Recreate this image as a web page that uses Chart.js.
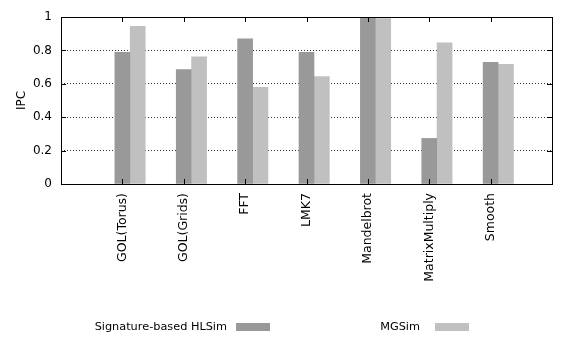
<!DOCTYPE html>
<html>
<head>
<meta charset="utf-8">
<script src="https://cdn.jsdelivr.net/npm/chart.js@4"></script>
<style>
  html, body { margin: 0; padding: 0; background: #fff; }
  #wrap { width: 579px; height: 338px; }
</style>
</head>
<body>
<div id="wrap"><canvas id="ipcChart" width="579" height="338"></canvas></div>
<script>
// data
const categorias = ["GOL(Torus)", "GOL(Grids)", "FFT", "LMK7", "Mandelbrot", "MatrixMultiply", "Smooth"];
const hlsim = [0.788, 0.685, 0.870, 0.788, 1.0, 0.273, 0.729];
const mgsim = [0.944, 0.762, 0.579, 0.643, 0.990, 0.846, 0.717];
const yTicks = [0, 0.2, 0.4, 0.6, 0.8, 1];
const series = ["Signature-based HLSim", "MGSim"];
const colores = ["#999999", "#c0c0c0"];

const FONT = "'DejaVu Sans', sans-serif";

// marco, marcas y leyenda estilo gnuplot
const marco = {
  id: "marco",
  afterDatasetsDraw(chart) {
    const { ctx, chartArea: a, scales } = chart;
    ctx.save();
    ctx.strokeStyle = "#000";
    ctx.lineWidth = 1;
    ctx.beginPath();
    // ticks del eje y (izq y der)
    yTicks.forEach(v => {
      const y = Math.round(scales.y.getPixelForValue(v)) + 0.5;
      ctx.moveTo(a.left, y); ctx.lineTo(a.left + 5, y);
      ctx.moveTo(a.right, y); ctx.lineTo(a.right - 5, y);
    });
    // ticks del eje x (arriba y abajo)
    categorias.forEach((c, i) => {
      const x = Math.round(scales.x.getPixelForValue(i)) + 0.5;
      ctx.moveTo(x, a.top); ctx.lineTo(x, a.top + 5);
      ctx.moveTo(x, a.bottom); ctx.lineTo(x, a.bottom - 5);
    });
    ctx.stroke();
    ctx.strokeRect(Math.round(a.left) + 0.5, Math.round(a.top) + 0.5,
      Math.round(a.right - a.left), Math.round(a.bottom - a.top));
    ctx.restore();
  },
  afterDraw(chart) {
    const { ctx } = chart;
    ctx.save();
    ctx.font = "11.3px " + FONT;
    ctx.textAlign = "right";
    ctx.textBaseline = "middle";
    const pos = [[227, 236], [420, 435]];
    chart.data.datasets.forEach((ds, i) => {
      ctx.fillStyle = "#000";
      ctx.fillText(ds.label, pos[i][0], 327);
      ctx.fillStyle = ds.backgroundColor;
      ctx.fillRect(pos[i][1], 323, 34, 8);
    });
    ctx.restore();
  }
};

new Chart(document.getElementById("ipcChart"), {
  type: "bar",
  data: {
    datasets: [{
      label: series[0],
      data: hlsim.map((v, i) => ({ x: i, y: v })),
      backgroundColor: colores[0],
      barThickness: 15
    }, {
      label: series[1],
      data: mgsim.map((v, i) => ({ x: i + 0.25, y: v })),
      backgroundColor: colores[1],
      barThickness: 15
    }]
  },
  options: {
    responsive: false,
    animation: false,
    grouped: false,
    layout: { padding: { top: 17, right: 27, left: 0, bottom: 0 } },
    plugins: { legend: { display: false }, tooltip: { enabled: false } },
    scales: {
      x: {
        type: "linear",
        offset: false,
        min: -1,
        max: 7,
        afterFit: s => { s.height = 154; },
        afterBuildTicks: s => { s.ticks = categorias.map((c, i) => ({ value: i })); },
        grid: { display: false, drawTicks: false, offset: false },
        border: { display: false },
        ticks: {
          autoSkip: false,
          minRotation: 90,
          maxRotation: 90,
          padding: 9,
          color: "#000",
          font: { family: FONT, size: 12.5 },
          callback: v => categorias[v] ?? ""
        }
      },
      y: {
        min: 0,
        max: 1,
        afterFit: s => { s.width = 61; },
        afterBuildTicks: s => { s.ticks = yTicks.map(v => ({ value: v })); },
        grid: {
          drawTicks: false,
          color: c => (c.tick.value > 0 && c.tick.value < 1) ? "#333" : "rgba(0,0,0,0)",
          lineWidth: 1
        },
        border: { display: false, dash: [1, 2] },
        ticks: {
          padding: 9,
          color: "#000",
          font: { family: FONT, size: 12 },
          callback: v => String(v)
        },
        title: {
          display: true,
          text: "IPC",
          color: "#000",
          font: { family: FONT, size: 12 },
          padding: { top: 15, bottom: 0 }
        }
      }
    }
  },
  plugins: [marco]
});
</script>
</body>
</html>
